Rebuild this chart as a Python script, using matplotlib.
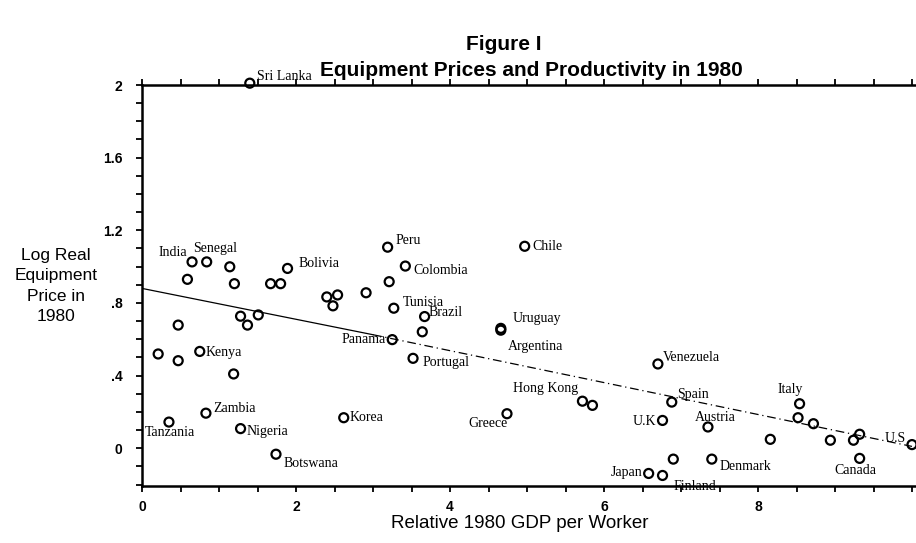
import numpy as np
import matplotlib
matplotlib.use("Agg")
import matplotlib.pyplot as plt

# relative 1980 GDP per worker and log real equipment price
countries = ["Sri Lanka", "India", "Senegal", "", "", "", "Bolivia", "", "", "",
             "", "", "", "Peru", "", "Colombia", "Tunisia", "Brazil", "", "Panama",
             "Portugal", "Uruguay", "Argentina", "Chile", "", "", "", "", "Kenya", "",
             "", "", "Zambia", "Tanzania", "Nigeria", "Botswana", "Korea", "Greece", "Hong Kong", "",
             "Venezuela", "Spain", "U.K", "Austria", "", "Denmark", "Japan", "Finland", "", "Italy",
             "", "", "", "", "", "Canada", "U.S"]
gdp = [0.140, 0.065, 0.084, 0.114, 0.059, 0.120, 0.189, 0.167, 0.180, 0.240,
       0.254, 0.248, 0.291, 0.319, 0.321, 0.342, 0.327, 0.367, 0.364, 0.325,
       0.352, 0.466, 0.466, 0.497, 0.128, 0.151, 0.137, 0.047, 0.075, 0.021,
       0.047, 0.119, 0.083, 0.035, 0.128, 0.174, 0.262, 0.474, 0.572, 0.585,
       0.670, 0.688, 0.676, 0.735, 0.690, 0.740, 0.658, 0.676, 0.816, 0.854,
       0.852, 0.872, 0.894, 0.924, 0.932, 0.932, 1.000]
price = [2.010, 1.026, 1.026, 0.999, 0.930, 0.906, 0.990, 0.906, 0.906, 0.833,
         0.844, 0.784, 0.856, 1.107, 0.917, 1.003, 0.771, 0.725, 0.641, 0.598,
         0.495, 0.660, 0.650, 1.112, 0.727, 0.734, 0.678, 0.678, 0.533, 0.519,
         0.482, 0.409, 0.193, 0.144, 0.108, -0.033, 0.168, 0.190, 0.259, 0.236,
         0.464, 0.254, 0.153, 0.117, -0.060, -0.060, -0.139, -0.150, 0.049, 0.245,
         0.168, 0.135, 0.044, 0.044, 0.077, -0.056, 0.020]

# fitted line, read at three places
fit_x = [0.0, 0.30, 1.0]
fit_y = [0.88, 0.625, 0.01]

x_ticks = [0.0, 0.2, 0.4, 0.6, 0.8, 1.0]
x_ticklabels = ["0", "2", "4", "6", "8", ""]
y_ticks = [0.0, 0.4, 0.8, 1.2, 1.6, 2.0]
y_ticklabels = ["0", ".4", ".8", "1.2", "1.6", "2"]

# label placement (pixels from the point, alignment)
label_pos = {
    "Sri Lanka": (7, 7, "left"), "India": (-5, 9, "right"), "Senegal": (-14, 13, "left"),
    "Bolivia": (11, 5, "left"), "Peru": (8, 7, "left"), "Colombia": (8, -4, "left"),
    "Tunisia": (9, 6, "left"), "Brazil": (4, 4, "left"), "Panama": (-6, 0, "right"),
    "Portugal": (9, -4, "left"), "Uruguay": (12, 10, "left"), "Argentina": (7, -16, "left"),
    "Chile": (8, 0, "left"), "Kenya": (6, -1, "left"), "Zambia": (7, 5, "left"),
    "Tanzania": (-24, -10, "left"), "Nigeria": (6, -3, "left"), "Botswana": (8, -9, "left"),
    "Korea": (6, 0, "left"), "Greece": (1, -10, "right"), "Hong Kong": (-4, 13, "right"),
    "Venezuela": (5, 6, "left"), "Spain": (5, 8, "left"), "U.K": (-6, -1, "right"),
    "Austria": (-13, 9, "left"), "Denmark": (8, -7, "left"), "Japan": (-6, 1, "right"),
    "Finland": (11, -11, "left"), "Italy": (-9, 14, "center"), "Canada": (-4, -12, "center"),
    "U.S": (-6, 6, "right"),
}

tick_font = ["Liberation Sans Narrow", "Liberation Sans", "DejaVu Sans"]
sans = ["Liberation Sans", "DejaVu Sans"]
serif = ["Liberation Serif", "DejaVu Serif"]

fig = plt.figure(figsize=(9.16, 5.43), dpi=100)
ax = fig.add_axes([142 / 916, 57 / 543, 1 - 142 / 916, 401 / 543])

ax.scatter(gdp, price, s=42, facecolors="none", edgecolors="black", linewidths=1.6,
           zorder=3, clip_on=False)
ax.plot(fit_x[:2], fit_y[:2], color="black", lw=0.9, zorder=2)
ax.plot(fit_x[1:], fit_y[1:], color="black", lw=0.9, ls=(0, (7, 3, 1, 3)), zorder=2)

for name, x, y in zip(countries, gdp, price):
    if not name:
        continue
    dx, dy, ha = label_pos[name]
    ax.annotate(name, (x, y), xytext=(dx, dy), textcoords="offset pixels",
                ha=ha, va="center", fontsize=10, family=serif, zorder=4,
                annotation_clip=False)

ax.set_xlim(0, 774 / 770)
ax.set_ylim(-0.208, 2.0)
ax.set_xticks(x_ticks)
ax.set_xticklabels(x_ticklabels)
ax.set_yticks(y_ticks)
ax.set_yticklabels(y_ticklabels)
ax.set_xticks(np.arange(0, 1.01, 0.05), minor=True)
ax.set_yticks(np.arange(-0.2, 2.01, 0.1), minor=True)
ax.tick_params(which="both", direction="out", length=4, width=1.3, top=True, right=False)
ax.tick_params(axis="x", which="major", pad=6)
ax.tick_params(axis="y", which="major", pad=10)
for lab in ax.get_xticklabels() + ax.get_yticklabels():
    lab.set_family(tick_font)
    lab.set_fontsize(10)
    lab.set_fontweight("bold")

ax.spines["right"].set_visible(False)
for side in ["left", "bottom", "top"]:
    ax.spines[side].set_linewidth(1.8)

fig.text(0.55, 1 - 45 / 543, "Figure I", ha="center", va="center",
         fontsize=15, fontweight="bold", family=sans)
fig.text(0.58, 1 - 70 / 543, "Equipment Prices and Productivity in 1980", ha="center", va="center",
         fontsize=15, fontweight="bold", family=sans)
fig.text(56 / 916, 1 - 286 / 543, "Log Real\nEquipment\nPrice in\n1980", ha="center", va="center",
         fontsize=12.5, family=sans, linespacing=1.45)
fig.text(0.567, 1 - 524 / 543, "Relative 1980 GDP per Worker", ha="center", va="center",
         fontsize=13.5, family=sans)

fig.savefig("out.png", dpi=100)
